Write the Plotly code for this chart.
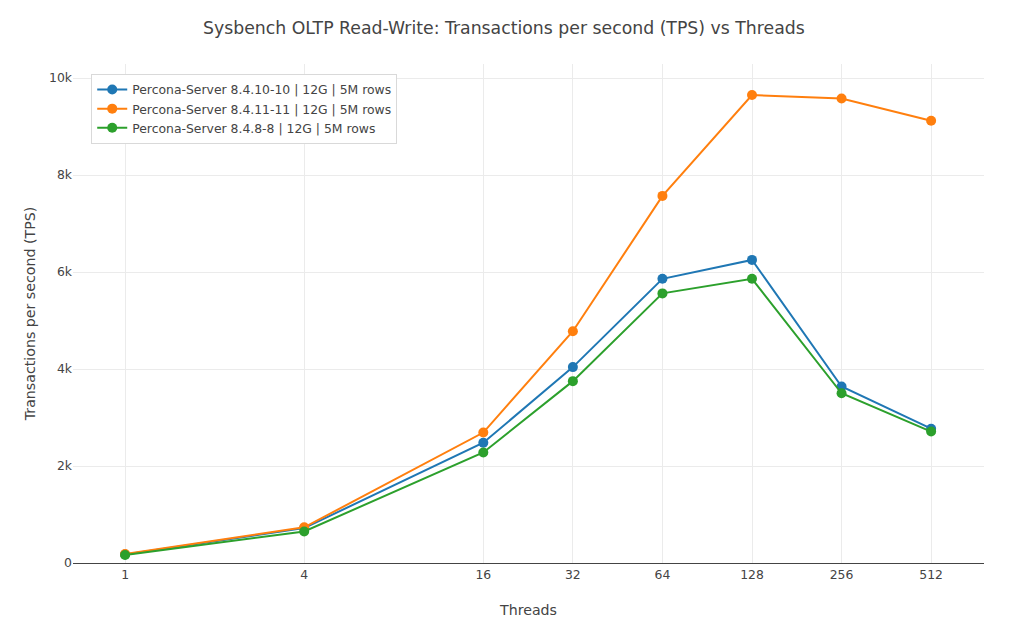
import plotly.graph_objects as go

threads = [1, 4, 16, 32, 64, 128, 256, 512]
tick_labels = ["1", "4", "16", "32", "64", "128", "256", "512"]

series_names = [
    "Percona-Server 8.4.10-10 | 12G | 5M rows",
    "Percona-Server 8.4.11-11 | 12G | 5M rows",
    "Percona-Server 8.4.8-8 | 12G | 5M rows",
]
tps_8410 = [175, 720, 2480, 4040, 5860, 6250, 3640, 2770]
tps_8411 = [185, 735, 2690, 4780, 7570, 9650, 9580, 9120]
tps_848 = [165, 650, 2280, 3750, 5560, 5860, 3500, 2710]
colors = ["#1f77b4", "#ff7f0e", "#2ca02c"]

fig = go.Figure()
for name, vals, c in zip(series_names, [tps_8410, tps_8411, tps_848], colors):
    fig.add_trace(go.Scatter(
        x=threads, y=vals, name=name, mode="lines+markers",
        line=dict(color=c, width=2), marker=dict(color=c, size=10),
    ))

fig.update_layout(
    width=1012, height=624,
    template="plotly_white",
    font=dict(family="Verdana, DejaVu Sans, sans-serif", color="#444", size=12.4),
    title=dict(text="Sysbench OLTP Read-Write: Transactions per second (TPS) vs Threads",
               x=0.490, xanchor="center", y=0.968, yanchor="middle",
               font=dict(size=17.3, color="#444")),
    margin=dict(l=65, r=36, t=56, b=69),
    legend=dict(x=0.02, y=0.98, xanchor="left", yanchor="top",
                bordercolor="#d9d9d9", borderwidth=1, bgcolor="white",
                font=dict(size=12.4)),
    xaxis=dict(type="log", tickvals=threads, ticktext=tick_labels,
               range=[-0.175, 2.887],
               title=dict(text="Threads", font=dict(size=14.2), standoff=24),
               showline=True, linecolor="#444", linewidth=1,
               gridcolor="#ebebeb", zeroline=False),
    yaxis=dict(range=[0, 10290], dtick=2000, tickformat="~s",
               title=dict(text="Transactions per second (TPS)", font=dict(size=14.2),
                          standoff=10),
               gridcolor="#ebebeb", zeroline=False),
)

fig.write_html("out.html")
